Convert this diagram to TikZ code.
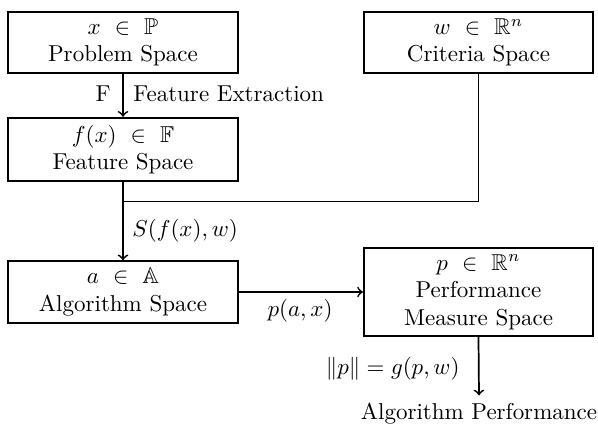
\documentclass[tikz,border=0pt]{standalone}
\usepackage{amssymb}
\begin{document}
\begin{tikzpicture}[x=0.435pt,y=-0.435pt,
  box/.style={draw,line width=0.75pt,align=center,minimum width=99.8pt,inner sep=0pt},
  lbl/.style={inner sep=0pt},
  conn/.style={line width=0.75pt},
  arr/.style={conn,->}]
\useasboundingbox (0,0) rectangle (598,428);
\node[box,minimum height=26.6pt] (prob) at (123,42.5) {$x~\in~\mathbb{P}$\\Problem Space};
\node[box,minimum height=27.7pt] (feat) at (123,149.5) {$f(x)~\in~\mathbb{F}$\\Feature Space};
\node[box,minimum height=26.6pt] (crit) at (478.5,42.5) {$w~\in~\mathbb{R}^n$\\Criteria Space};
\node[box,minimum height=26.8pt] (alg) at (123,292) {$a~\in~\mathbb{A}$\\Algorithm Space};
\node[box,minimum height=38.3pt] (perf) at (478.5,292) {$p~\in~\mathbb{R}^n$\\Performance\\Measure Space};
\node[anchor=base] (ap) at (479,420) {Algorithm Performance};
\coordinate (j) at (123,201.5);
\draw[arr] (prob) -- (feat);
\node[lbl,anchor=base east] (lf) at (111,102) {F};
\node[lbl,anchor=base west] (lfe) at (133,102) {Feature Extraction};
\draw[conn] (crit.south) |- (j);
\draw[arr] (feat) -- (alg);
\node[lbl,anchor=base west] (ls) at (132,237) {$S(f(x),w)$};
\draw[arr] (alg.east |- perf) -- (perf.west);
\node[lbl,anchor=base] (lp) at (300,317) {$p(a,x)$};
\draw[arr] (perf.south) -- (ap.north);
\node[lbl,anchor=base east] (lg) at (460,375) {$\|p\| = g(p,w)$};
\end{tikzpicture}
\end{document}
